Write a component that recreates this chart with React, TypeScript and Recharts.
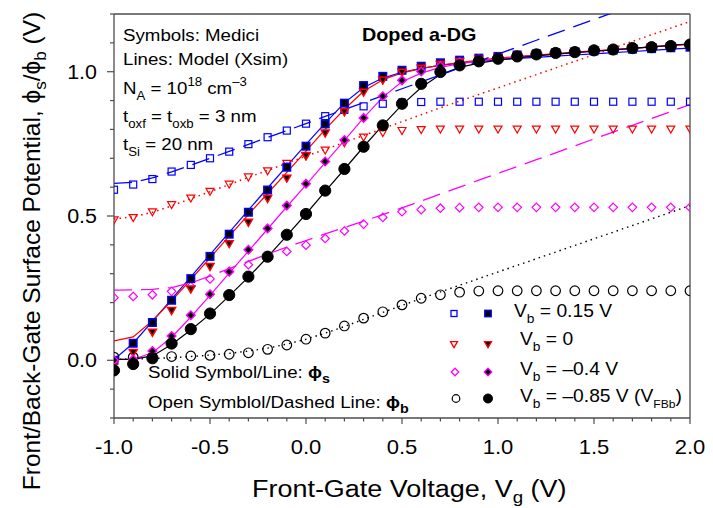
import React from 'react'
import { ComposedChart, Line, Scatter, XAxis, YAxis, ReferenceLine } from 'recharts'

// front-gate voltage grid (V)
const vg = [-1.0, -0.9, -0.8, -0.7, -0.6, -0.5, -0.4, -0.3, -0.2, -0.1, 0.0, 0.1, 0.2, 0.3, 0.4, 0.5, 0.6, 0.7, 0.8, 0.9, 1.0, 1.1, 1.2, 1.3, 1.4, 1.5, 1.6, 1.7, 1.8, 1.9, 2.0]

const xTicks = vg
const xMajor = [-1.0, -0.5, 0.0, 0.5, 1.0, 1.5, 2.0]
const yTicks = [-0.2, -0.1, 0.0, 0.1, 0.2, 0.3, 0.4, 0.5, 0.6, 0.7, 0.8, 0.9, 1.0, 1.1, 1.2]
const yMajor = [0.0, 0.5, 1.0]

// Medici, back surface potential (open symbols)
const medPhib015 = [0.591, 0.609, 0.628, 0.654, 0.677, 0.700, 0.723, 0.749, 0.773, 0.796, 0.820, 0.846, 0.868, 0.880, 0.889, 0.893, 0.895, 0.896, 0.896, 0.896, 0.896, 0.896, 0.896, 0.896, 0.896, 0.896, 0.896, 0.896, 0.896, 0.896, 0.896]
const medPhib0 = [0.485, 0.493, 0.513, 0.538, 0.561, 0.584, 0.609, 0.634, 0.655, 0.681, 0.706, 0.727, 0.752, 0.772, 0.788, 0.795, 0.798, 0.800, 0.800, 0.800, 0.800, 0.800, 0.800, 0.800, 0.800, 0.800, 0.800, 0.800, 0.800, 0.800, 0.800]
const medPhibM04 = [0.217, 0.221, 0.227, 0.239, 0.256, 0.282, 0.308, 0.331, 0.356, 0.377, 0.399, 0.422, 0.448, 0.472, 0.495, 0.515, 0.522, 0.527, 0.529, 0.530, 0.530, 0.530, 0.530, 0.530, 0.530, 0.530, 0.530, 0.530, 0.530, 0.530, 0.530]
const medPhibM085 = [0.011, 0.011, 0.012, 0.013, 0.015, 0.017, 0.021, 0.026, 0.038, 0.053, 0.073, 0.094, 0.119, 0.146, 0.168, 0.192, 0.215, 0.227, 0.236, 0.240, 0.241, 0.241, 0.241, 0.241, 0.241, 0.241, 0.241, 0.241, 0.241, 0.241, 0.241]

// Medici, front surface potential (solid symbols)
const medPhis015 = [0.000, 0.059, 0.131, 0.208, 0.283, 0.360, 0.437, 0.513, 0.590, 0.669, 0.742, 0.819, 0.891, 0.952, 0.984, 1.005, 1.019, 1.031, 1.040, 1.047, 1.053, 1.058, 1.062, 1.066, 1.069, 1.072, 1.075, 1.078, 1.080, 1.083, 1.085]
const medPhis0 = [-0.014, 0.026, 0.096, 0.171, 0.246, 0.324, 0.403, 0.477, 0.559, 0.630, 0.708, 0.786, 0.860, 0.928, 0.970, 0.997, 1.011, 1.024, 1.034, 1.042, 1.049, 1.055, 1.060, 1.065, 1.069, 1.073, 1.077, 1.081, 1.085, 1.089, 1.093]
const medPhisM04 = [0.000, 0.003, 0.032, 0.084, 0.156, 0.229, 0.307, 0.383, 0.457, 0.536, 0.612, 0.689, 0.763, 0.840, 0.915, 0.970, 1.001, 1.020, 1.033, 1.042, 1.049, 1.055, 1.060, 1.065, 1.069, 1.073, 1.077, 1.081, 1.085, 1.089, 1.093]
const medPhisM085 = [-0.035, -0.013, 0.007, 0.058, 0.108, 0.162, 0.226, 0.290, 0.359, 0.435, 0.507, 0.588, 0.663, 0.740, 0.814, 0.889, 0.958, 0.999, 1.022, 1.036, 1.045, 1.053, 1.060, 1.065, 1.068, 1.074, 1.077, 1.082, 1.085, 1.089, 1.094]

// model (Xsim), front surface potential (solid lines)
const modPhis015 = [0.003, 0.059, 0.135, 0.212, 0.289, 0.366, 0.443, 0.520, 0.597, 0.673, 0.748, 0.822, 0.892, 0.945, 0.978, 0.998, 1.012, 1.022, 1.030, 1.036, 1.041, 1.046, 1.050, 1.054, 1.058, 1.062, 1.066, 1.070, 1.074, 1.078, 1.082]
const modPhis0 = [0.067, 0.081, 0.137, 0.206, 0.280, 0.355, 0.430, 0.505, 0.578, 0.651, 0.725, 0.800, 0.870, 0.932, 0.972, 0.996, 1.011, 1.023, 1.032, 1.040, 1.047, 1.053, 1.058, 1.063, 1.068, 1.072, 1.077, 1.081, 1.086, 1.090, 1.095]
const modPhisM04 = [0.003, 0.003, 0.026, 0.080, 0.150, 0.225, 0.302, 0.378, 0.455, 0.532, 0.608, 0.685, 0.762, 0.840, 0.912, 0.965, 0.995, 1.015, 1.028, 1.037, 1.044, 1.050, 1.056, 1.061, 1.066, 1.071, 1.076, 1.081, 1.086, 1.091, 1.096]
const modPhisM085 = [0.003, 0.003, 0.015, 0.055, 0.105, 0.160, 0.223, 0.288, 0.358, 0.432, 0.507, 0.585, 0.662, 0.740, 0.815, 0.885, 0.945, 0.990, 1.015, 1.030, 1.040, 1.048, 1.055, 1.061, 1.066, 1.071, 1.076, 1.081, 1.086, 1.091, 1.097]

// model (Xsim), back surface potential (dashed / dotted lines)
const modPhib015 = [0.613, 0.617, 0.632, 0.653, 0.676, 0.700, 0.724, 0.748, 0.772, 0.796, 0.820, 0.845, 0.869, 0.893, 0.917, 0.941, 0.965, 0.989, 1.013, 1.037, 1.061, 1.085, 1.109, 1.133, 1.157, 1.181, 1.205, 1.229, 1.253, 1.277, 1.301]
const modPhib0 = [0.490, 0.497, 0.513, 0.535, 0.560, 0.584, 0.609, 0.634, 0.658, 0.683, 0.707, 0.731, 0.755, 0.779, 0.803, 0.827, 0.851, 0.875, 0.898, 0.921, 0.944, 0.967, 0.990, 1.013, 1.036, 1.059, 1.082, 1.105, 1.128, 1.151, 1.174]
const modPhibM04 = [0.243, 0.244, 0.246, 0.252, 0.268, 0.292, 0.318, 0.343, 0.368, 0.392, 0.415, 0.438, 0.460, 0.482, 0.505, 0.528, 0.552, 0.576, 0.600, 0.624, 0.648, 0.671, 0.695, 0.719, 0.743, 0.767, 0.791, 0.814, 0.838, 0.862, 0.886]
const modPhibM085 = [0.003, 0.004, 0.006, 0.009, 0.013, 0.018, 0.024, 0.032, 0.042, 0.056, 0.073, 0.094, 0.117, 0.142, 0.166, 0.190, 0.214, 0.237, 0.260, 0.283, 0.306, 0.329, 0.352, 0.375, 0.398, 0.421, 0.444, 0.467, 0.490, 0.513, 0.536]

const BLUE = '#0000ff'
const RED = '#ff0000'
const MAG = '#ff00ff'
const BLK = '#000000'
const AXIS = '#4d4d4d'
const FONT = '"Liberation Sans", Arial, sans-serif'
const SX = 1.1 // text in the figure is a bit wider than tall

const pts = (ys: number[]) => vg.map((x, i) => ({ x, y: ys[i] }))
const near = (list: number[], v: number) => list.some((m) => Math.abs(m - v) < 1e-6)

// marker shapes
const square = (cx: number, cy: number, s: number, fill: string, stroke: string, sw = 1.2) => (
  <rect x={cx - s / 2} y={cy - s / 2} width={s} height={s} fill={fill} stroke={stroke} strokeWidth={sw} />
)
const triDown = (cx: number, cy: number, s: number, fill: string, stroke: string, sw = 1.2) => (
  <polygon
    points={`${cx - s / 2},${cy - s * 0.42} ${cx + s / 2},${cy - s * 0.42} ${cx},${cy + s * 0.45}`}
    fill={fill}
    stroke={stroke}
    strokeWidth={sw}
  />
)
const diamond = (cx: number, cy: number, s: number, fill: string, stroke: string, sw = 1.2) => (
  <polygon
    points={`${cx},${cy - s / 2} ${cx + s / 2},${cy} ${cx},${cy + s / 2} ${cx - s / 2},${cy}`}
    fill={fill}
    stroke={stroke}
    strokeWidth={sw}
  />
)
const circle = (cx: number, cy: number, r: number, fill: string, stroke: string, sw = 1.2) => (
  <circle cx={cx} cy={cy} r={r} fill={fill} stroke={stroke} strokeWidth={sw} />
)

function XTick(props: any) {
  const { x, y, payload } = props
  const v = payload.value
  const major = near(xMajor, v)
  return (
    <g>
      <line x1={x} x2={x} y1={y} y2={y + (major ? 6 : 3.5)} stroke={AXIS} strokeWidth={1.2} />
      {major && (
        <text transform={`translate(${x},${y + 36}) scale(${SX},1)`} textAnchor="middle" fontSize={20} fontFamily={FONT} fill="#000">
          {v.toFixed(1)}
        </text>
      )}
    </g>
  )
}

function YTick(props: any) {
  const { x, y, payload } = props
  const v = payload.value
  const major = near(yMajor, v)
  return (
    <g>
      <line x1={x - (major ? 7 : 4)} x2={x} y1={y} y2={y} stroke={AXIS} strokeWidth={1.2} />
      {major && (
        <text transform={`translate(${x - 17},${y + 7}) scale(${SX},1)`} textAnchor="end" fontSize={19.5} fontFamily={FONT} fill="#000">
          {v.toFixed(1)}
        </text>
      )}
    </g>
  )
}

function T({ x, y, size = 17, bold = false, children }: any) {
  return (
    <text transform={`translate(${x},${y}) scale(${SX},1)`} fontSize={size} fontFamily={FONT} fontWeight={bold ? 'bold' : 'normal'} fill="#000">
      {children}
    </text>
  )
}

const sub = (s: string, size = 12, bold = false) => [
  <tspan key="a" dy={5} fontSize={size} fontWeight={bold ? 'bold' : undefined}>{s}</tspan>,
  <tspan key="b" dy={-5}>{'\u200b'}</tspan>,
]

function Overlay() {
  const lx1 = 454
  const lx2 = 488
  return (
    <svg width={713} height={508} style={{ position: 'absolute', left: 0, top: 0, pointerEvents: 'none' }}>
      {/* axis titles */}
      <text transform="translate(40,251) rotate(-90)" textAnchor="middle" fontSize={24.5} fontFamily={FONT} fill="#000">
        Front/Back-Gate Surface Potential, ϕ<tspan dy={6} fontSize={17}>s</tspan>
        <tspan dy={-6}>/ϕ</tspan>
        <tspan dy={6} fontSize={17}>b</tspan>
        <tspan dy={-6}> (V)</tspan>
      </text>
      <T x={252} y={497} size={24.5}>
        Front-Gate Voltage, V<tspan dy={6} fontSize={17}>g</tspan>
        <tspan dy={-6}> (V)</tspan>
      </T>

      {/* parameters */}
      <T x={123} y={41}>Symbols: Medici</T>
      <T x={123} y={65}>Lines: Model (Xsim)</T>
      <T x={123} y={94}>
        N<tspan dy={6} fontSize={12}>A</tspan>
        <tspan dy={-6}> = 10</tspan>
        <tspan dy={-8} fontSize={12}>18</tspan>
        <tspan dy={8}> cm</tspan>
        <tspan dy={-8} fontSize={12}>–3</tspan>
      </T>
      <T x={123} y={122}>
        t<tspan dy={6} fontSize={12}>oxf</tspan>
        <tspan dy={-6}> = t</tspan>
        <tspan dy={6} fontSize={12}>oxb</tspan>
        <tspan dy={-6}> = 3 nm</tspan>
      </T>
      <T x={123} y={150}>
        t<tspan dy={6} fontSize={12}>Si</tspan>
        <tspan dy={-6}> = 20 nm</tspan>
      </T>
      <T x={362} y={41} size={18} bold>Doped a-DG</T>

      <T x={148} y={378}>
        Solid Symbol/Line: <tspan fontWeight="bold">ϕ</tspan>
        <tspan dy={5} fontSize={13} fontWeight="bold">s</tspan>
      </T>
      <T x={148} y={408}>
        Open Symblol/Dashed Line: <tspan fontWeight="bold">ϕ</tspan>
        <tspan dy={5} fontSize={13} fontWeight="bold">b</tspan>
      </T>

      {/* legend */}
      {square(lx1, 313.5, 6, 'none', BLUE, 1.3)}
      {square(lx2, 313.5, 6.5, BLK, BLUE, 1.3)}
      <T x={514} y={317} size={17.5}>
        V<tspan dy={6} fontSize={12.5}>b</tspan>
        <tspan dy={-6}> = 0.15 V</tspan>
      </T>
      {triDown(lx1, 344.5, 7, 'none', RED, 1.3)}
      {triDown(lx2, 344.5, 7, BLK, RED, 1.3)}
      <T x={520} y={345} size={17.5}>
        V<tspan dy={6} fontSize={12.5}>b</tspan>
        <tspan dy={-6}> = 0</tspan>
      </T>
      {diamond(lx1 + 1, 372, 7.5, 'none', MAG, 1.3)}
      {diamond(lx2, 372, 7.5, BLK, MAG, 1.3)}
      <T x={520} y={375} size={17.5}>
        V<tspan dy={6} fontSize={12.5}>b</tspan>
        <tspan dy={-6}> = –0.4 V</tspan>
      </T>
      {circle(lx1 + 2, 398.5, 3.8, 'none', BLK, 1.2)}
      {circle(lx2, 398.5, 4.5, BLK, BLK, 1)}
      <T x={520} y={402} size={17.5}>
        V<tspan dy={6} fontSize={12.5}>b</tspan>
        <tspan dy={-6}> = –0.85 V (V</tspan>
        <tspan dy={6} fontSize={11}>FBb</tspan>
        <tspan dy={-6}>)</tspan>
      </T>
    </svg>
  )
}

export default function App() {
  return (
    <div style={{ position: 'absolute', left: 0, top: 0, width: 713, height: 508, background: '#fff' }}>
      <ComposedChart width={713} height={508} margin={{ top: 14, right: 23, bottom: 60, left: 60 }}>
        <XAxis
          type="number"
          dataKey="x"
          domain={[-1, 2]}
          ticks={xTicks}
          interval={0}
          allowDataOverflow
          tickLine={false}
          tickSize={0}
          tickMargin={0}
          height={30}
          axisLine={{ stroke: AXIS, strokeWidth: 1.3 }}
          tick={(p: any) => <XTick {...p} />}
        />
        <YAxis
          type="number"
          dataKey="y"
          domain={[-0.2, 1.2]}
          ticks={yTicks}
          interval={0}
          allowDataOverflow
          tickLine={false}
          tickSize={0}
          tickMargin={0}
          width={54}
          axisLine={{ stroke: AXIS, strokeWidth: 1.3 }}
          tick={(p: any) => <YTick {...p} />}
        />
        <ReferenceLine y={1.2} stroke={AXIS} strokeWidth={1.3} />
        <ReferenceLine x={2} stroke={AXIS} strokeWidth={1.3} />

        {/* Medici open symbols (phi_b) */}
        <Scatter data={pts(medPhib015)} dataKey="y" isAnimationActive={false} shape={(p: any) => square(p.cx, p.cy, 7, 'none', BLUE)} />
        <Scatter data={pts(medPhib0)} dataKey="y" isAnimationActive={false} shape={(p: any) => triDown(p.cx, p.cy, 8, 'none', RED)} />
        <Scatter data={pts(medPhibM04)} dataKey="y" isAnimationActive={false} shape={(p: any) => diamond(p.cx, p.cy, 8.5, 'none', MAG)} />
        <Scatter data={pts(medPhibM085)} dataKey="y" isAnimationActive={false} shape={(p: any) => circle(p.cx, p.cy, 4.8, 'none', BLK)} />

        {/* Medici solid symbols (phi_s) */}
        <Scatter data={pts(medPhis015)} dataKey="y" isAnimationActive={false} shape={(p: any) => square(p.cx, p.cy, 7.5, BLK, BLUE, 1.5)} />
        <Scatter data={pts(medPhis0)} dataKey="y" isAnimationActive={false} shape={(p: any) => triDown(p.cx, p.cy, 8, BLK, RED, 1.5)} />
        <Scatter data={pts(medPhisM04)} dataKey="y" isAnimationActive={false} shape={(p: any) => diamond(p.cx, p.cy, 8.5, BLK, MAG, 1.5)} />
        <Scatter data={pts(medPhisM085)} dataKey="y" isAnimationActive={false} shape={(p: any) => circle(p.cx, p.cy, 5.6, BLK, BLK, 1)} />

        {/* model lines */}
        <Line data={pts(modPhis015)} dataKey="y" type="linear" stroke={BLUE} strokeWidth={1.2} dot={false} activeDot={false} isAnimationActive={false} />
        <Line data={pts(modPhis0)} dataKey="y" type="linear" stroke={RED} strokeWidth={1.2} dot={false} activeDot={false} isAnimationActive={false} />
        <Line data={pts(modPhisM04)} dataKey="y" type="linear" stroke={MAG} strokeWidth={1.2} dot={false} activeDot={false} isAnimationActive={false} />
        <Line data={pts(modPhisM085)} dataKey="y" type="linear" stroke={BLK} strokeWidth={1.2} dot={false} activeDot={false} isAnimationActive={false} />

        <Line data={pts(modPhib015)} dataKey="y" type="linear" stroke={BLUE} strokeWidth={1.3} strokeDasharray="18 9" dot={false} activeDot={false} isAnimationActive={false} />
        <Line data={pts(modPhib0)} dataKey="y" type="linear" stroke={RED} strokeWidth={1.5} strokeDasharray="1.5 4" dot={false} activeDot={false} isAnimationActive={false} />
        <Line data={pts(modPhibM04)} dataKey="y" type="linear" stroke={MAG} strokeWidth={1.3} strokeDasharray="18 9" dot={false} activeDot={false} isAnimationActive={false} />
        <Line data={pts(modPhibM085)} dataKey="y" type="linear" stroke={BLK} strokeWidth={1.4} strokeDasharray="1.5 4" dot={false} activeDot={false} isAnimationActive={false} />
      </ComposedChart>
      <Overlay />
    </div>
  )
}
